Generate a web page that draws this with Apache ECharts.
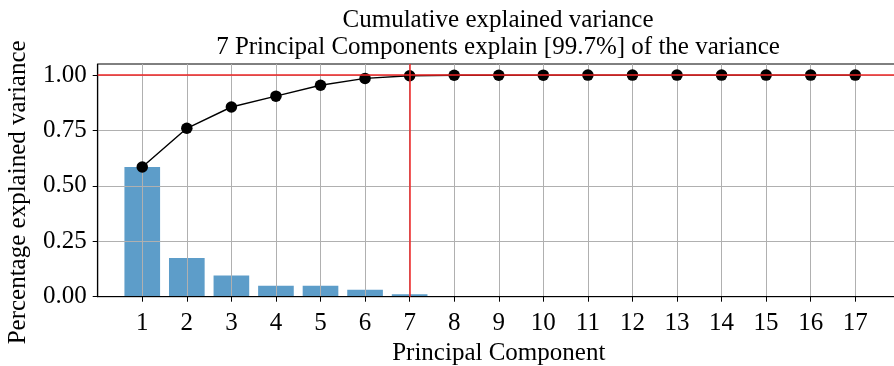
<!DOCTYPE html>
<html>
<head>
<meta charset="utf-8">
<script src="https://cdn.jsdelivr.net/npm/echarts@6/dist/echarts.min.js"></script>
<style>
  html, body { margin: 0; padding: 0; background: #ffffff; }
  #chart { width: 894px; height: 366px; }
</style>
</head>
<body>
<div id="chart"></div>
<script>
// Principal components and the share of variance each one explains
const components = [1, 2, 3, 4, 5, 6, 7, 8, 9, 10, 11, 12, 13, 14, 15, 16, 17];
const explainedRatio = [0.585, 0.175, 0.096, 0.049, 0.049, 0.031, 0.011, 0.002, 0.0008,
  0.0004, 0.0003, 0.0002, 0.0001, 0.0001, 0.00005, 0.00003, 0.00002];
const cumulativeRatio = [0.585, 0.760, 0.856, 0.905, 0.954, 0.985, 0.997, 0.999, 0.9995,
  0.9998, 0.9999, 0.9999, 1.0, 1.0, 1.0, 1.0, 1.0];
const yTicks = [0, 0.25, 0.5, 0.75, 1.0];
const selectedComponents = 7;
const explainedPercent = 99.7;
const fullLevel = 1.0;

const SERIF = '"Liberation Serif", "Times New Roman", serif';
const FS = 25;

const chart = echarts.init(document.getElementById('chart'), null, { renderer: 'canvas' });

const barPoints = components.map((c, i) => [c, explainedRatio[i]]);
const linePoints = components.map((c, i) => [c, cumulativeRatio[i]]);

chart.setOption({
  animation: false,
  backgroundColor: '#ffffff',
  textStyle: { fontFamily: SERIF },
  title: {
    text: 'Cumulative explained variance\n' + selectedComponents +
      ' Principal Components explain [' + explainedPercent + '%] of the variance',
    left: 498,
    top: 7,
    textAlign: 'center',
    padding: 0,
    textStyle: {
      fontFamily: SERIF, fontSize: FS, fontWeight: 'normal',
      color: '#000000', lineHeight: 27
    }
  },
  grid: {
    left: 97.7,
    top: 64,
    width: 802.1,
    bottom: 69.3,
    outerBoundsMode: 'none',
    containLabel: false,
    show: true,
    borderColor: '#000000',
    borderWidth: 1,
    backgroundColor: 'transparent'
  },
  xAxis: {
    type: 'value',
    min: 0,
    max: 18,
    interval: 1,
    name: 'Principal Component',
    nameLocation: 'middle',
    nameGap: 40,
    nameTextStyle: { fontFamily: SERIF, fontSize: FS, color: '#000000', lineHeight: 25 },
    axisLine: { show: true, onZero: false, lineStyle: { color: '#000000', width: 1.2 } },
    axisTick: {
      show: true, inside: false, length: 5,
      customValues: components,
      lineStyle: { color: '#000000', width: 1 }
    },
    axisLabel: {
      show: true, margin: 14,
      customValues: components,
      fontFamily: SERIF, fontSize: FS, color: '#000000',
      formatter: v => String(v)
    },
    splitLine: { show: true, lineStyle: { color: '#b0b0b0', width: 1 } }
  },
  yAxis: {
    type: 'value',
    min: 0,
    max: 1.05,
    interval: 0.25,
    name: 'Percentage explained variance',
    nameLocation: 'middle',
    nameRotate: 90,
    nameGap: 67,
    nameTextStyle: {
      fontFamily: SERIF, fontSize: FS, color: '#000000', lineHeight: 25,
      padding: [0, 24, 0, 0]
    },
    axisLine: { show: true, lineStyle: { color: '#000000', width: 1.2 } },
    axisTick: {
      show: true, inside: false, length: 5,
      customValues: yTicks,
      lineStyle: { color: '#000000', width: 1 }
    },
    axisLabel: {
      show: true, margin: 11,
      customValues: yTicks,
      fontFamily: SERIF, fontSize: FS, color: '#000000',
      formatter: v => v.toFixed(2)
    },
    splitLine: { show: true, lineStyle: { color: '#b0b0b0', width: 1 } }
  },
  series: [
    {
      // explained variance per component: bars of width 0.8 in axis units
      type: 'custom',
      z: -1,
      silent: true,
      data: barPoints,
      encode: { x: 0, y: 1 },
      renderItem: (params, api) => {
        const x = api.value(0);
        const y = api.value(1);
        const p0 = api.coord([x - 0.4, y]);
        const p1 = api.coord([x + 0.4, 0]);
        return {
          type: 'rect',
          shape: { x: p0[0], y: p0[1], width: p1[0] - p0[0], height: p1[1] - p0[1] },
          style: { fill: 'rgba(31,119,180,0.72)' }
        };
      }
    },
    {
      // cumulative explained variance, with the full-variance level and
      // the selected component count as reference lines
      type: 'line',
      z: 3,
      data: linePoints,
      symbol: 'circle',
      symbolSize: 11.5,
      showAllSymbol: true,
      itemStyle: { color: '#000000' },
      lineStyle: { color: '#000000', width: 1.4 },
      silent: true,
      markLine: {
        silent: true,
        symbol: ['none', 'none'],
        label: { show: false },
        emphasis: { disabled: true },
        lineStyle: { color: '#ee2424', width: 1.5, type: 'solid', opacity: 1 },
        data: [{ yAxis: fullLevel }, { xAxis: selectedComponents }]
      }
    }
  ]
});
</script>
</body>
</html>
